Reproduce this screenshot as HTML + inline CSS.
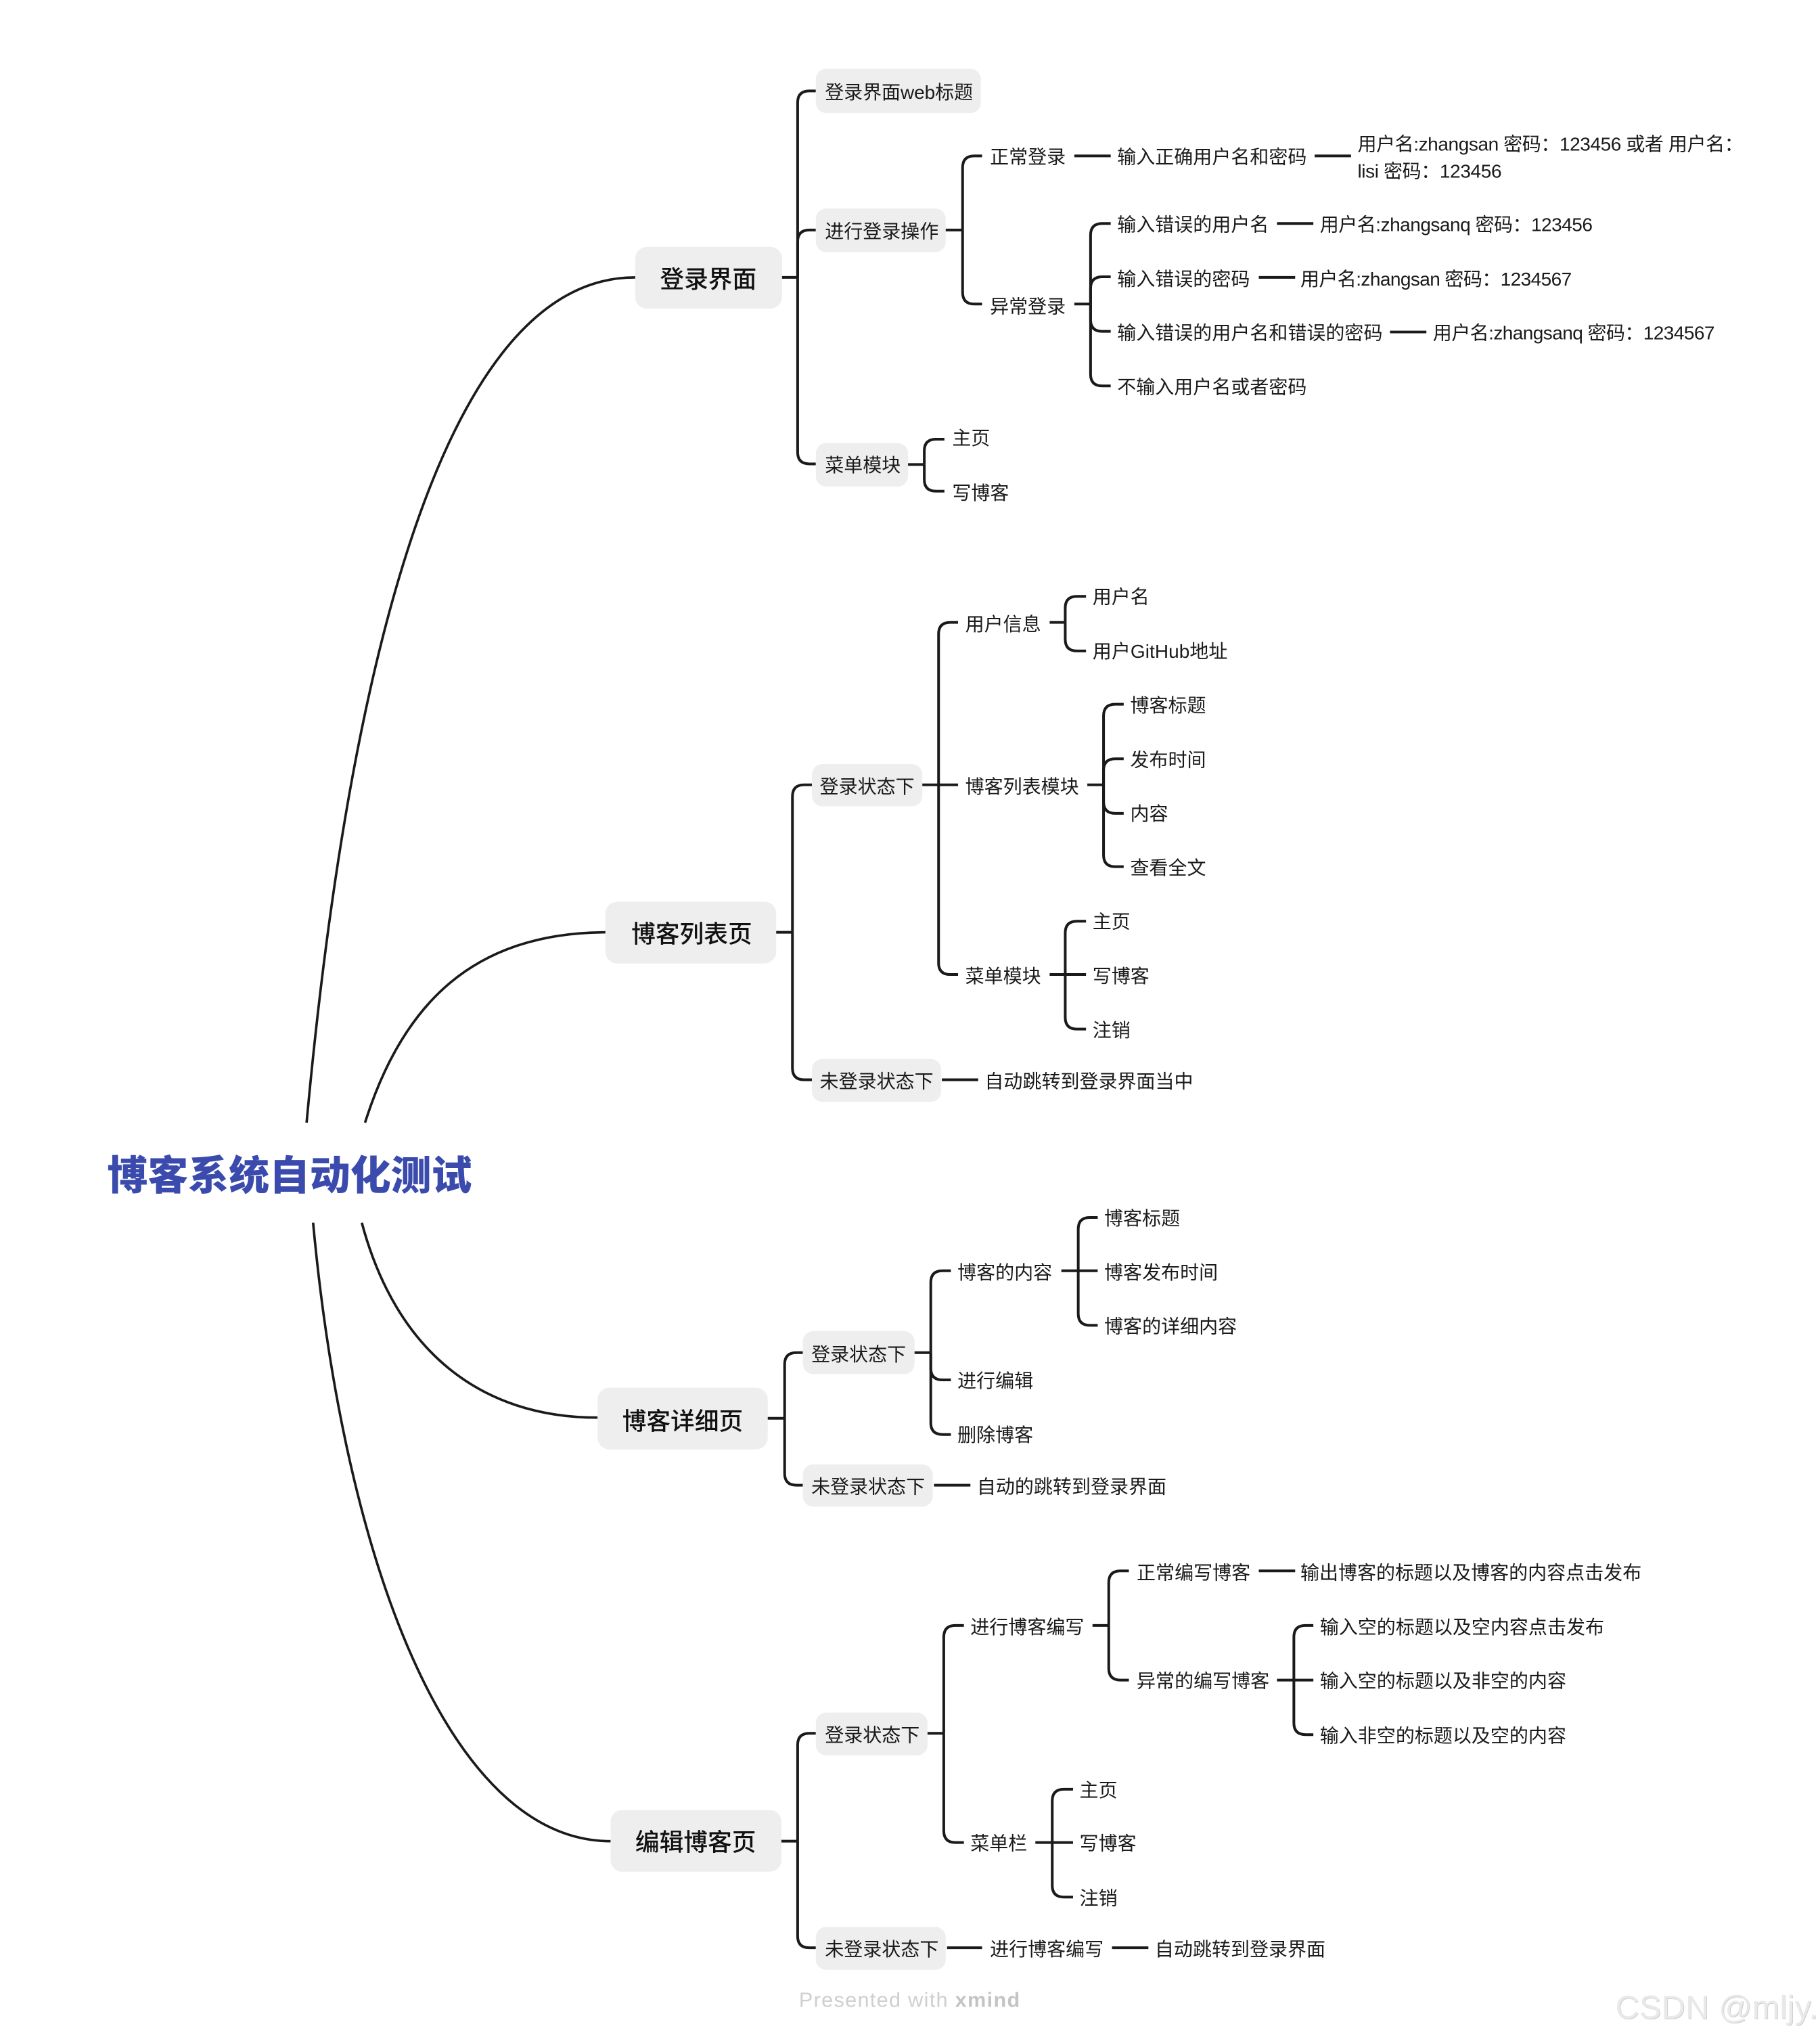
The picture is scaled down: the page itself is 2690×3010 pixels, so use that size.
<!DOCTYPE html>
<html><head><meta charset="utf-8"><title>博客系统自动化测试</title>
<style>
html,body{margin:0;padding:0;background:#fff}
svg{display:block}
text{font-family:"Liberation Sans","Noto Sans CJK SC",sans-serif;font-size:14.6px;fill:#1a1a1a;transform:translateY(-.7px)}
.l1{font-size:18.6px;font-weight:500;fill:#111;font-family:"Noto Sans CJK SC",sans-serif;transform:translateY(.3px)}
.root{font-size:31.2px;font-weight:900;fill:#3a4bad;font-family:"Noto Sans CJK SC",sans-serif;transform:translateY(.6px)}
path{fill:none;stroke:#1a1a1a;stroke-width:2.08}
.c{stroke-width:1.9}
rect{fill:#eee}
.ft{transform:none}
</style></head><body>
<svg xmlns="http://www.w3.org/2000/svg" width="2690" height="3010" viewBox="0 0 1401 1567.7">
<rect width="1401" height="1567.7" style="fill:#fff"/>
<!-- root curves -->
<path class="c" d="M236 864C264 560 330 213 489 213.500"/>
<path class="c" d="M281 864C310 772 365 717.500 467 717.500"/>
<path class="c" d="M278.500 941C305 1040 370 1091 460 1091"/>
<path class="c" d="M241 941C265 1200 345 1417 470 1417"/>
<text class="root" x="82.500" y="915">博客系统自动化测试</text>

<!-- group 1 -->
<rect x="489" y="190" width="113" height="47.500" rx="9"/>
<text class="l1" x="508" y="221">登录界面</text>
<path d="M602 213.500H614"/>
<path d="M614 213.500V79q0-9 9-9h5"/>
<path d="M614 213.500V186q0-9 9-9h5"/>
<path d="M614 213.500V348q0 9 9 9h5"/>
<rect x="628" y="53" width="127" height="34" rx="8"/>
<text x="635" y="76.700" textLength="114">登录界面web标题</text>
<rect x="628" y="160.500" width="100" height="33.500" rx="8"/>
<text x="635" y="183.700">进行登录操作</text>
<rect x="628" y="341" width="71" height="33.500" rx="8"/>
<text x="635" y="363.700">菜单模块</text>

<path d="M728 177H741"/>
<path d="M741 177V129q0-9 9-9h6"/>
<path d="M741 177V225q0 9 9 9h6"/>
<text x="762" y="126.500">正常登录</text>
<text x="762" y="241.500">异常登录</text>
<path d="M827 120H855"/>
<text x="860" y="126.500">输入正确用户名和密码</text>
<path d="M1012 120H1040"/>
<text x="1045" y="116.500" textLength="297">用户名:zhangsan 密码：123456 或者 用户名：</text>
<text x="1045" y="137.500" textLength="111">lisi 密码：123456</text>

<path d="M827 234H839.500"/>
<path d="M839.500 234V181q0-9 9-9h6.500"/>
<path d="M839.500 234V222q0-9 9-9h6.500"/>
<path d="M839.500 234V246q0 9 9 9h6.500"/>
<path d="M839.500 234V288q0 9 9 9h6.500"/>
<text x="860" y="178.500">输入错误的用户名</text>
<text x="860" y="220.500">输入错误的密码</text>
<text x="860" y="262">输入错误的用户名和错误的密码</text>
<text x="860" y="303.500">不输入用户名或者密码</text>
<path d="M983 172H1011"/>
<text x="1016" y="178.500" textLength="210">用户名:zhangsanq 密码：123456</text>
<path d="M969 213.500H997"/>
<text x="1001" y="220.500" textLength="209">用户名:zhangsan 密码：1234567</text>
<path d="M1070 255.500H1098"/>
<text x="1103" y="262" textLength="217">用户名:zhangsanq 密码：1234567</text>

<path d="M699 357.500H711.500"/>
<path d="M711.500 357.500V347q0-9 9-9h6.500"/>
<path d="M711.500 357.500V369q0 9 9 9h6.500"/>
<text x="733" y="343">主页</text>
<text x="733" y="385">写博客</text>

<!-- group 2 -->
<rect x="466" y="694" width="131.500" height="47.500" rx="9"/>
<text class="l1" x="486" y="725">博客列表页</text>
<path d="M597.500 717.500H610"/>
<path d="M610 717.500V613q0-9 9-9h6"/>
<path d="M610 717.500V822q0 9 9 9h6"/>
<rect x="625" y="588" width="85" height="32.500" rx="8"/>
<text x="631" y="611">登录状态下</text>
<rect x="625" y="815" width="99.500" height="33" rx="8"/>
<text x="631" y="838">未登录状态下</text>
<path d="M725 831H753"/>
<text x="758" y="838">自动跳转到登录界面当中</text>

<path d="M710 604H737.500"/>
<path d="M722.500 604V488q0-9 9-9h6"/>
<path d="M722.500 604V741q0 9 9 9h6"/>
<text x="743" y="486">用户信息</text>
<text x="743" y="611">博客列表模块</text>
<text x="743" y="757">菜单模块</text>

<path d="M808 479H820"/>
<path d="M820 479V468q0-9 9-9h7"/>
<path d="M820 479V492q0 9 9 9h7"/>
<text x="841" y="465">用户名</text>
<text x="841" y="507" textLength="104">用户GitHub地址</text>

<path d="M837 604H849.500"/>
<path d="M849.500 604V551q0-9 9-9h6.500"/>
<path d="M849.500 604V593q0-9 9-9h6.500"/>
<path d="M849.500 604V617q0 9 9 9h6.500"/>
<path d="M849.500 604V658q0 9 9 9h6.500"/>
<text x="870" y="548.500">博客标题</text>
<text x="870" y="590.500">发布时间</text>
<text x="870" y="632">内容</text>
<text x="870" y="673.500">查看全文</text>

<path d="M808 750H836"/>
<path d="M820 750V718q0-9 9-9h7"/>
<path d="M820 750V783q0 9 9 9h7"/>
<text x="841" y="715">主页</text>
<text x="841" y="757">写博客</text>
<text x="841" y="798.500">注销</text>

<!-- group 3 -->
<rect x="460" y="1068" width="131" height="47.500" rx="9"/>
<text class="l1" x="479" y="1100">博客详细页</text>
<path d="M591 1091.500H604"/>
<path d="M604 1091.500V1050q0-9 9-9h5"/>
<path d="M604 1091.500V1134q0 9 9 9h5"/>
<rect x="618" y="1024.500" width="86" height="33" rx="8"/>
<text x="624.500" y="1048">登录状态下</text>
<rect x="618" y="1127" width="100" height="32.500" rx="8"/>
<text x="624.500" y="1150">未登录状态下</text>
<path d="M719 1143H747"/>
<text x="752" y="1150">自动的跳转到登录界面</text>

<path d="M704 1041H716.500"/>
<path d="M716.500 1041V987q0-9 9-9h6.500"/>
<path d="M716.500 1041V1053q0 9 9 9h6.500"/>
<path d="M716.500 1041V1095q0 9 9 9h6.500"/>
<text x="737" y="985">博客的内容</text>
<text x="737" y="1068.500">进行编辑</text>
<text x="737" y="1110">删除博客</text>

<path d="M817 978H845"/>
<path d="M830 978V946q0-9 9-9h6"/>
<path d="M830 978V1011q0 9 9 9h6"/>
<text x="850" y="943.500">博客标题</text>
<text x="850" y="985">博客发布时间</text>
<text x="850" y="1026.500">博客的详细内容</text>

<!-- group 4 -->
<rect x="470" y="1393" width="131.500" height="47.500" rx="9"/>
<text class="l1" x="489" y="1424">编辑博客页</text>
<path d="M601.500 1417H614"/>
<path d="M614 1417V1343q0-9 9-9h5"/>
<path d="M614 1417V1490q0 9 9 9h5"/>
<rect x="628" y="1318" width="86" height="33" rx="8"/>
<text x="635" y="1341">登录状态下</text>
<rect x="628" y="1483" width="100" height="33" rx="8"/>
<text x="635" y="1506">未登录状态下</text>
<path d="M729 1499H756"/>
<text x="762" y="1506">进行博客编写</text>
<path d="M856 1499H884"/>
<text x="889" y="1506">自动跳转到登录界面</text>

<path d="M714 1334H726.500"/>
<path d="M726.500 1334V1260q0-9 9-9h6.500"/>
<path d="M726.500 1334V1409q0 9 9 9h6.500"/>
<text x="747" y="1258">进行博客编写</text>
<text x="747" y="1424.500">菜单栏</text>

<path d="M841 1251H853.500"/>
<path d="M853.500 1251V1218q0-9 9-9h6.500"/>
<path d="M853.500 1251V1284q0 9 9 9h6.500"/>
<text x="875" y="1216">正常编写博客</text>
<text x="875" y="1299.500">异常的编写博客</text>
<path d="M969 1209H997"/>
<text x="1001" y="1216">输出博客的标题以及博客的内容点击发布</text>

<path d="M983 1293H1011"/>
<path d="M996 1293V1260q0-9 9-9h6"/>
<path d="M996 1293V1326q0 9 9 9h6"/>
<text x="1016" y="1258">输入空的标题以及空内容点击发布</text>
<text x="1016" y="1299.500">输入空的标题以及非空的内容</text>
<text x="1016" y="1341.500">输入非空的标题以及空的内容</text>

<path d="M797 1418H826"/>
<path d="M810 1418V1386q0-9 9-9h7"/>
<path d="M810 1418V1451q0 9 9 9h7"/>
<text x="831" y="1383.500">主页</text>
<text x="831" y="1424.500">写博客</text>
<text x="831" y="1466.500">注销</text>

<!-- footer -->
<text class="ft" x="615" y="1544.500" textLength="170" style="font-size:16px;fill:#cfcfcf">Presented with <tspan style="font-weight:700;fill:#c4c4c4">xmind</tspan></text>
<text class="ft" x="1244" y="1553.900" textLength="156" style="font-size:25.300px;fill:#cfcfcf">CSDN @mljy.</text>
<text class="ft" x="1243.500" y="1553.400" textLength="156" style="font-size:25.300px;fill:#e9e9e9">CSDN @mljy.</text>
</svg>
</body></html>
